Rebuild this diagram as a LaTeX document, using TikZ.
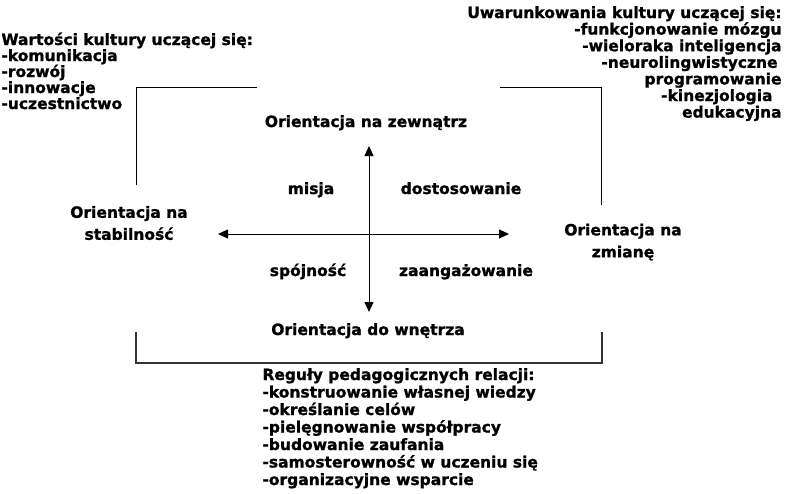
\documentclass[tikz,border=0pt]{standalone}
\usepackage{fontspec}
\setmainfont{DejaVu Sans}[BoldFeatures={FakeBold=1.2}]
\usetikzlibrary{arrows.meta}
\begin{document}
\begin{tikzpicture}
	[x=1pt, y=-1pt, line width=0.9pt, font=\fontsize{15.5}{19}\selectfont\bfseries,
	 axis/.style={{Triangle[length=10pt,width=9pt]}-{Triangle[length=10pt,width=9pt]}},
	 lst/.style={inner sep=0pt, anchor=base west},
	 lstr/.style={inner sep=0pt, anchor=base east},
	 lbl/.style={inner sep=0pt, anchor=base},
	 lbl2/.style={inner sep=0pt, align=center}]
	\useasboundingbox (0,0) rectangle (785,493);
	\coordinate (tl) at (136,87);  \coordinate (tla) at (257,87);  \coordinate (tlb) at (136,185);
	\coordinate (tr) at (601,87);  \coordinate (tra) at (500,87);  \coordinate (trb) at (601,205);
	\coordinate (bl) at (136,363); \coordinate (bla) at (136,332); 
	\coordinate (br) at (602,363); \coordinate (bra) at (602,332);
	\draw (tla) -- (tl) -- (tlb);
	\draw (tra) -- (tr) -- (trb);
	\draw[line width=1.3pt, black!80] (bla) -- (bl) -- (br) -- (bra);
	\coordinate (w) at (218,234); \coordinate (e) at (509,234);
	\coordinate (n) at (369,146); \coordinate (s) at (369,312);
	\draw[axis] (w) -- (e);
	\draw[axis] (n) -- (s);
	\node[lbl] (zewn) at (366,127) {Orientacja na zewnątrz};
	\node[lbl] (wewn) at (368,335) {Orientacja do wnętrza};
	\node[lbl2] (stab) at (129,223) {Orientacja na\\[3pt] stabilność};
	\node[lbl2] (zmiana) at (623,242) {Orientacja na\\[3pt] zmianę};
	\node[lbl] (misja) at (311,194) {misja};
	\node[lbl] (dost) at (461,194) {dostosowanie};
	\node[lbl] (spoj) at (308,276) {spójność};
	\node[lbl] (zaang) at (466,276) {zaangażowanie};
	\foreach \t [count=\i from 0] in {Wartości kultury uczącej się:, -komunikacja, -rozwój, -innowacje, -uczestnictwo}
		\node[lst] (wart\i) at (1, 45+16*\i) {\t};
	\foreach \t [count=\i from 0] in {Uwarunkowania kultury uczącej się:, -funkcjonowanie mózgu, -wieloraka inteligencja,
		-neurolingwistyczne\hspace*{4pt}, programowanie, -kinezjologia\hspace*{9pt}, edukacyjna}
		\node[lstr] (uwar\i) at (782, 18+16.6*\i) {\t};
	\foreach \t [count=\i from 0] in {Reguły pedagogicznych relacji:, -konstruowanie własnej wiedzy, -określanie celów,
		-pielęgnowanie współpracy, -budowanie zaufania, -samosterowność w uczeniu się, -organizacyjne wsparcie}
		\node[lst] (reg\i) at (262, 380+17.5*\i) {\t};
\end{tikzpicture}
\end{document}
